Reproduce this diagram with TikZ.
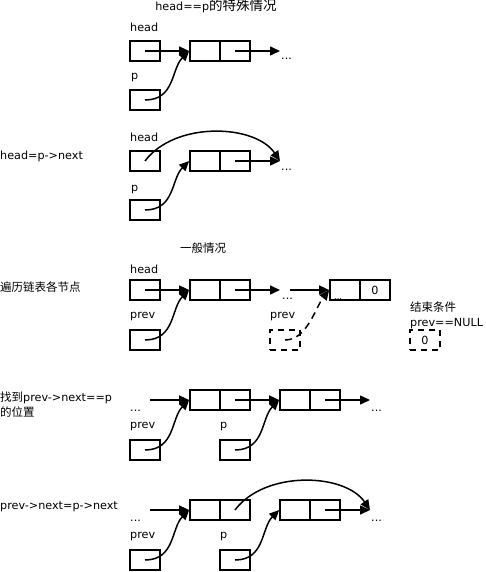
\documentclass[tikz,border=0pt]{standalone}
\usepackage{fontspec}
\setmainfont{DejaVu Sans}
\newfontfamily\cjk{Noto Sans CJK SC}
\usetikzlibrary{arrows.meta,positioning}

\begin{document}
\begin{tikzpicture}[x=1pt,y=-1pt,
    font=\fontsize{11.2}{13}\selectfont,
    ptr/.style={rectangle,
      draw = black,
      line width = 1.7pt,
      minimum width = 30pt,
      minimum height = 20pt,
      inner sep = 0pt},
    gone/.style={ptr, dash pattern=on 6pt off 5pt},
    link/.style={line width=1.5pt, -{Triangle[length=10pt,width=9pt]}},
    lbl/.style={inner sep=0pt, anchor=base west},
    zh/.style={font=\fontsize{11.5}{13}\selectfont\cjk}]
\useasboundingbox (0,0) rectangle (486,572);

% first case: head==p
\node[lbl, anchor=base] (titleA) at (216,11) {head==p{\fontsize{13.5}{14}\selectfont\cjk 的特殊情况}};
\node[ptr] (headA) at (145,51) {};
\node[ptr] (pA) at (145,100) {};
\node[ptr] (nodeAa) at (205,51) {};
\node[ptr] (nodeAb) at (235,51) {};
\node[lbl] (headlblA) at (130,31.5) {head};
\node[lbl] (plblA) at (131,80) {p};
\coordinate (endA) at (280,51);
\node[lbl] (dotsA) at (281,60) {...};

\draw[link] (headA.center) -- (nodeAa.west);
\draw[link] (nodeAb.center) -- (endA);
\draw[link] (pA.center) .. controls +(30,0) and +(-18,18) .. (nodeAa.west);

% second case: head=p->next
\node[lbl] (textB) at (0,160) {head=p->next};
\node[ptr] (headB) at (145,161) {};
\node[ptr] (pB) at (145,210) {};
\node[ptr] (nodeBa) at (205,161) {};
\node[ptr] (nodeBb) at (235,161) {};
\node[lbl] (headlblB) at (130,141.5) {head};
\node[lbl] (plblB) at (131,191) {p};
\coordinate (endB) at (280,161);
\node[lbl] (dotsB) at (281,170) {...};

\draw[link] (nodeBb.center) -- (endB);
\draw[link] (headB.center) .. controls +(30,-40) and +(-25,-37) .. (endB);
\draw[link] (pB.center) .. controls +(30,0) and +(-18,18) .. (nodeBa.west);

% general case: walk through the list
\node[lbl, anchor=base, zh] (titleC) at (203,252) {一般情况};
\node[lbl, zh] (textC) at (0,291) {遍历链表各节点};
\node[ptr] (headC) at (145,290) {};
\node[ptr] (prevC) at (145,340) {};
\node[ptr] (nodeCa) at (205,290) {};
\node[ptr] (nodeCb) at (235,290) {};
\node[ptr] (lastCa) at (345,290) {};
\node[ptr] (lastCb) at (375,290) {0};
\node[gone] (prevCC) at (285,340) {};
\node[lbl] (headlblC) at (130,273) {head};
\node[lbl] (prevlblC) at (130,318) {prev};
\node[lbl] (prevlblCC) at (270,318) {prev};
\coordinate (endC) at (280,290);
\coordinate (startC) at (290,290);
\node[lbl] (dotsC) at (282,299) {...};
\node[lbl, font=\fontsize{8}{9}\selectfont] (dotsCC) at (334,299) {...};

\draw[link] (headC.center) -- (nodeCa.west);
\draw[link] (nodeCb.center) -- (endC);
\draw[link] (startC) -- (lastCa.west);
\draw[link] (prevC.center) .. controls +(30,0) and +(-18,18) .. (nodeCa.west);
\draw[link, dash pattern=on 7pt off 5pt] (prevCC.center) .. controls +(22,0) and +(-14,18) .. (lastCa.west);

% end condition
\node[lbl, zh] (endtextC) at (410,311) {结束条件};
\node[lbl] (nulltextC) at (410,326) {prev==NULL};
\node[gone] (nullC) at (425,340) {0};

% found prev->next==p
\node[lbl] (textD) at (0,401) {{\fontsize{11.5}{13}\selectfont\cjk 找到}prev->next==p};
\node[lbl, zh] (textDD) at (0,416) {的位置};
\node[ptr] (nodeDa) at (205,400) {};
\node[ptr] (nodeDb) at (235,400) {};
\node[ptr] (nodeDDa) at (295,400) {};
\node[ptr] (nodeDDb) at (325,400) {};
\node[ptr] (prevD) at (145,450) {};
\node[ptr] (pD) at (235,450) {};
\node[lbl] (prevlblD) at (130,428) {prev};
\node[lbl] (plblD) at (220,428) {p};
\coordinate (startD) at (150,400);
\coordinate (endD) at (370,400);
\node[lbl] (dotsD) at (130,411) {...};
\node[lbl] (dotsDD) at (371,411) {...};

\draw[link] (startD) -- (nodeDa.west);
\draw[link] (nodeDb.center) -- (nodeDDa.west);
\draw[link] (nodeDDb.center) -- (endD);
\draw[link] (prevD.center) .. controls +(30,0) and +(-18,18) .. (nodeDa.west);
\draw[link] (pD.center) .. controls +(30,0) and +(-18,18) .. (nodeDDa.west);

% prev->next=p->next
\node[lbl] (textE) at (0,509.5) {prev->next=p->next};
\node[ptr] (nodeEa) at (205,510) {};
\node[ptr] (nodeEb) at (235,510) {};
\node[ptr] (nodeEEa) at (295,510) {};
\node[ptr] (nodeEEb) at (325,510) {};
\node[ptr] (prevE) at (145,560) {};
\node[ptr] (pE) at (235,560) {};
\node[lbl] (prevlblE) at (130,538) {prev};
\node[lbl] (plblE) at (220,538) {p};
\coordinate (startE) at (150,510);
\coordinate (endE) at (370,510);
\node[lbl] (dotsE) at (130,521) {...};
\node[lbl] (dotsEE) at (371,521) {...};

\draw[link] (startE) -- (nodeEa.west);
\draw[link] (nodeEEb.center) -- (endE);
\draw[link] (nodeEb.center) .. controls +(30,-40) and +(-25,-37) .. (endE);
\draw[link] (prevE.center) .. controls +(30,0) and +(-18,18) .. (nodeEa.west);
\draw[link] (pE.center) .. controls +(30,0) and +(-18,18) .. (nodeEEa.west);

\end{tikzpicture}
\end{document}
